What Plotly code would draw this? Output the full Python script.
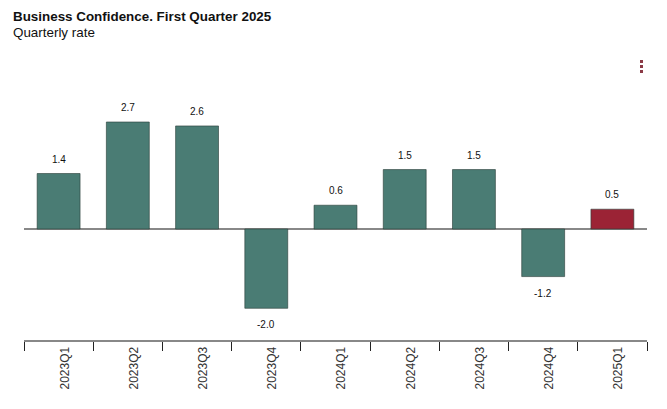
import plotly.graph_objects as go

categories = ["2023Q1", "2023Q2", "2023Q3", "2023Q4", "2024Q1", "2024Q2", "2024Q3", "2024Q4", "2025Q1"]
values = [1.4, 2.7, 2.6, -2.0, 0.6, 1.5, 1.5, -1.2, 0.5]
labels = ["1.4", "2.7", "2.6", "-2.0", "0.6", "1.5", "1.5", "-1.2", "0.5"]

teal = "#4a7c74"
red = "#9b2335"
colors = [teal] * (len(values) - 1) + [red]

fig = go.Figure()
fig.add_trace(go.Bar(
    x=categories, y=values, width=0.62,
    marker=dict(color=colors, line=dict(color="rgba(40,60,55,0.6)", width=1)),
    hoverinfo="x+y",
))

OFF = 8  # page body margin offset
W, H = 667 - OFF, 409 - OFF
ml, mr, mt, mb = 24 - OFF, 20, 55 - OFF, 69
pw, ph = W - ml - mr, H - mt - mb

def px_x(x):
    return (x - OFF - ml) / pw

def px_y(y):
    return 1 - (y - OFF - mt) / ph

shapes = []
for yy in (60, 65, 70):
    shapes.append(dict(type="rect", xref="paper", yref="paper",
                       x0=px_x(640), x1=px_x(643), y0=px_y(yy + 3), y1=px_y(yy),
                       fillcolor="#8b3a46", line=dict(width=0)))

annotations = [
    dict(text="<b>Business Confidence. First Quarter 2025</b>", xref="paper", yref="paper",
         x=px_x(11), y=px_y(7), xanchor="left", yanchor="top", showarrow=False,
         font=dict(family="Arial", size=13.4, color="#111")),
    dict(text="Quarterly rate", xref="paper", yref="paper",
         x=px_x(11), y=px_y(23), xanchor="left", yanchor="top", showarrow=False,
         font=dict(family="Arial", size=13.4, color="#111")),
]
for c, v, t in zip(categories, values, labels):
    annotations.append(dict(
        x=c, y=v, xref="x", yref="y", text=t, showarrow=False,
        yanchor="bottom" if v >= 0 else "top",
        yshift=7 if v >= 0 else -9,
        font=dict(family="Arial", size=10, color="#111"),
    ))

fig.update_layout(
    width=W, height=H,
    margin=dict(l=ml, r=mr, t=mt, b=mb),
    plot_bgcolor="white", paper_bgcolor="white",
    showlegend=False,
    bargap=0.38,
    font=dict(family="Arial", color="#222"),
    shapes=shapes,
    annotations=annotations,
    xaxis=dict(
        showline=True, linecolor="#888", linewidth=2,
        ticks="outside", tickson="boundaries", ticklen=9, tickcolor="#222", tickwidth=1,
        tickangle=-90, tickfont=dict(family="Arial", size=12, color="#333"),
        ticklabelshift=6, ticklabelstandoff=0,
        showgrid=False, fixedrange=True,
    ),
    yaxis=dict(
        range=[-2.80, 4.39], showgrid=False, showticklabels=False, ticks="",
        zeroline=True, zerolinecolor="#888", zerolinewidth=2, fixedrange=True,
    ),
)

fig.write_html("out.html")
